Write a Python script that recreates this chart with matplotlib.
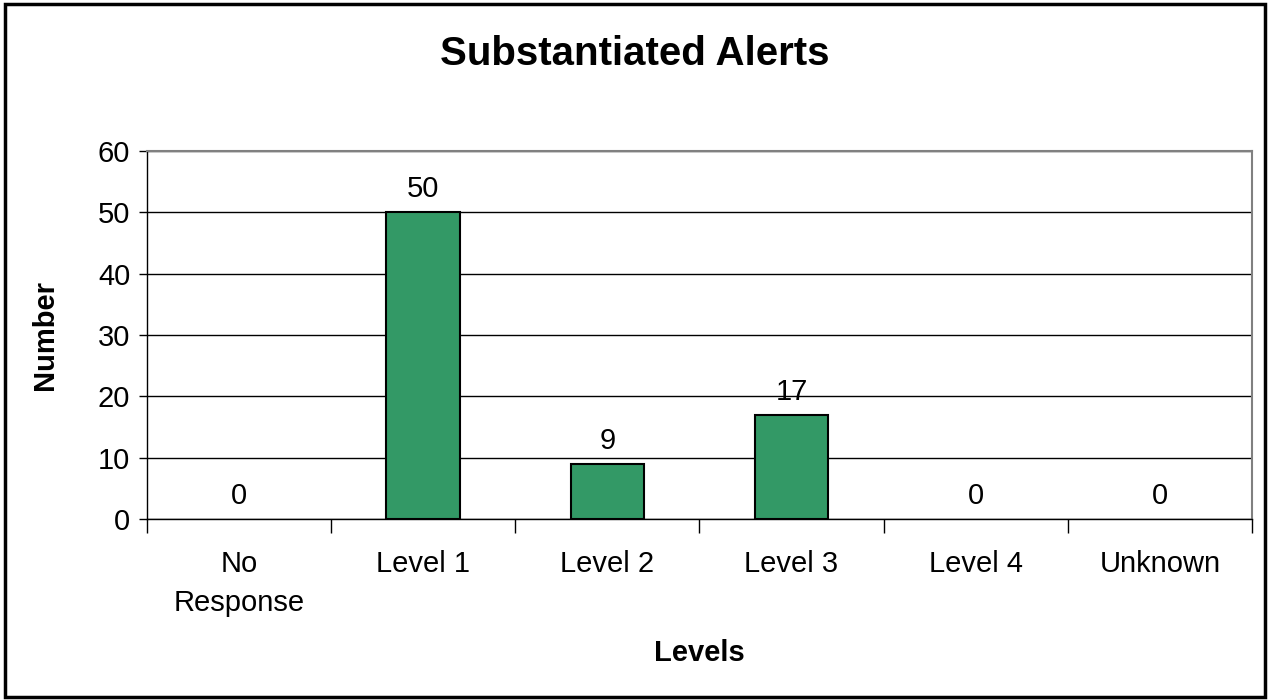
import matplotlib
matplotlib.use("Agg")
import matplotlib.pyplot as plt
from matplotlib.patches import Rectangle

categories = ["No\nResponse", "Level 1", "Level 2", "Level 3", "Level 4", "Unknown"]
counts = [0, 50, 9, 17, 0, 0]
yticks = [0, 10, 20, 30, 40, 50, 60]

plt.rcParams['font.family'] = ['Liberation Sans', 'DejaVu Sans']

fig = plt.figure(figsize=(12.7, 7), dpi=100)
ax = fig.add_axes([0.1157, 0.2586, 0.8701, 0.5257])

x = list(range(len(categories)))
# zero bars are not drawn in the original, only their labels
ax.bar(x, counts, width=0.4, color="#339966",
       edgecolor=["black" if v > 0 else "none" for v in counts],
       linewidth=1.5, zorder=3)
for xi, v in zip(x, counts):
    ax.text(xi, v + 1.5, str(v), ha="center", va="bottom", fontsize=21)

ax.set_xlim(-0.5, len(categories) - 0.5)
ax.set_ylim(0, 60)
ax.set_yticks(yticks)
ax.tick_params(axis="y", labelsize=21, direction="out", length=6, width=1, pad=6)
ax.yaxis.grid(True, color="black", linewidth=1, zorder=0)

# category ticks sit between bars, labels centred under bars
ax.set_xticks([i - 0.5 for i in range(len(categories) + 1)])
ax.set_xticklabels([])
ax.set_xticks(x, minor=True)
ax.set_xticklabels(categories, minor=True, fontsize=21, linespacing=1.5)
ax.tick_params(axis="x", which="major", direction="out", length=10, width=1)
ax.tick_params(axis="x", which="minor", length=0, pad=22)

for side in ["top", "right"]:
    ax.spines[side].set_color("#808080")
    ax.spines[side].set_linewidth(1.5)
for side in ["left", "bottom"]:
    ax.spines[side].set_color("black")
    ax.spines[side].set_linewidth(1)

ax.set_ylabel("Number", fontsize=21, fontweight="bold", labelpad=28)
ax.set_xlabel("Levels", fontsize=21, fontweight="bold", labelpad=16)
fig.suptitle("Substantiated Alerts", fontsize=29, fontweight="bold", y=0.95)

fig.patches.append(Rectangle((0.004, 0.005), 0.992, 0.99, transform=fig.transFigure,
                             fill=False, edgecolor="black", linewidth=2.5))

fig.savefig("out.png", dpi=100)
